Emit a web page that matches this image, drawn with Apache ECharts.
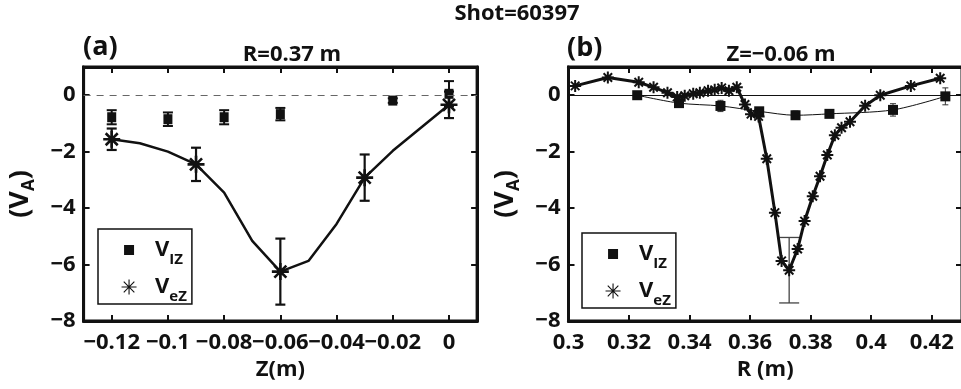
<!DOCTYPE html>
<html>
<head>
<meta charset="utf-8">
<script src="https://cdn.jsdelivr.net/npm/echarts@6/dist/echarts.min.js"></script>
<style>
html,body{margin:0;padding:0;background:#fff;}
#c{width:961px;height:389px;}
</style>
</head>
<body>
<div id="c"></div>
<script>
// ---------- data ----------
// Panel (a): R = 0.37 m, vs Z (m)
const zA_line = [-0.12, -0.11, -0.10, -0.09, -0.08, -0.07, -0.06, -0.05, -0.04, -0.03, -0.02, -0.01, 0];
const vA_line = [-1.56, -1.70, -2.00, -2.45, -3.45, -5.16, -6.25, -5.87, -4.56, -2.92, -1.97, -1.15, -0.34];

const zA_iz = [-0.12, -0.10, -0.08, -0.06, -0.02, 0];
const vA_iz = [-0.78, -0.85, -0.78, -0.67, -0.19, 0.05];
const eA_iz = [0.25, 0.24, 0.25, 0.22, 0.08, 0.45];

const zA_ez = [-0.12, -0.09, -0.06, -0.03, 0];
const vA_ez = [-1.56, -2.45, -6.25, -2.92, -0.34];
const eA_ez = [0.38, 0.59, 1.17, 0.82, 0.47];

// Panel (b): Z = -0.06 m, vs R (m)
const rB_iz = [0.3227, 0.3365, 0.3502, 0.3630, 0.3750, 0.3862, 0.4072, 0.4245];
const vB_iz = [0.00, -0.28, -0.38, -0.57, -0.71, -0.66, -0.52, -0.04];
const eB_iz = [0.08, 0.12, 0.20, 0.10, 0.15, 0.12, 0.22, 0.30];

const rB_ez = [0.3022, 0.3130, 0.3232, 0.3281, 0.3327, 0.3359, 0.3384, 0.3412, 0.3434, 0.3461, 0.3483,
               0.3506, 0.3530, 0.3556, 0.3583, 0.3603, 0.3628, 0.3655, 0.3682, 0.3704, 0.3729, 0.3757,
               0.3780, 0.3807, 0.3831, 0.3855, 0.3880, 0.3902, 0.3930, 0.3980, 0.4030, 0.4131, 0.4228];
const vB_ez = [0.33, 0.63, 0.46, 0.28, 0.09, -0.06, -0.02, 0.05, 0.09, 0.16, 0.19,
               0.26, 0.16, 0.28, -0.33, -0.67, -0.75, -2.25, -4.16, -5.87, -6.20, -5.45,
               -4.46, -3.58, -2.87, -2.12, -1.42, -1.15, -0.94, -0.37, 0.00, 0.33, 0.60];
const rB_ezErr = [0.3729];
const vB_ezErr = [-6.20];
const eB_ezErr = [1.16];

// tick labels
const xTicksA = [-0.12, -0.1, -0.08, -0.06, -0.04, -0.02, 0];
const xTicksB = [0.3, 0.32, 0.34, 0.36, 0.38, 0.4, 0.42];
const yTicks = [-8, -6, -4, -2, 0];

// ---------- helpers ----------
const FONT = "'Open Sans', 'DejaVu Sans', sans-serif";
const INK = '#111111';
const zip2 = (a, b) => a.map((v, i) => [v, b[i]]);
const zip3 = (a, b, c) => a.map((v, i) => [v, b[i], c[i]]);
const fmt = v => { const s = String(+(+v).toFixed(3)); return s.replace('-', '\u2212'); };
const STAR = 'path://M0,-10L0,10M-10,0L10,0M-7.07,-7.07L7.07,7.07M-7.07,7.07L7.07,-7.07';
const SQ_ICON = 'path://M-2.5,-2.5M12.5,12.5M0,0L10,0L10,10L0,10Z';

function errRender(capW, color, width) {
  return function (params, api) {
    const x = api.value(0), y = api.value(1), e = api.value(2);
    const hi = api.coord([x, y + e]);
    const lo = api.coord([x, y - e]);
    const style = { stroke: color, lineWidth: width, fill: null };
    return {
      type: 'group',
      children: [
        { type: 'line', shape: { x1: hi[0], y1: hi[1], x2: lo[0], y2: lo[1] }, style: style },
        { type: 'line', shape: { x1: hi[0] - capW / 2, y1: hi[1], x2: hi[0] + capW / 2, y2: hi[1] }, style: style },
        { type: 'line', shape: { x1: lo[0] - capW / 2, y1: lo[1], x2: lo[0] + capW / 2, y2: lo[1] }, style: style }
      ]
    };
  };
}

const axisLabelStyle = { fontFamily: FONT, fontWeight: 'bold', fontSize: 22, color: INK };
const axLine = () => ({ show: true, onZero: false, lineStyle: { color: INK, width: 3 } });
const axTick = (vals) => ({ show: true, inside: true, length: 6, lineStyle: { color: INK, width: 2 }, customValues: vals });
// frame axes (top / right): ticks only, labels are blank
const frameLabel = (vals) => ({ show: true, customValues: vals, formatter: () => ' ', fontSize: 2, margin: 1 });

function xAxes(grid, min, max, ticks, name) {
  return [
    { type: 'value', gridIndex: grid, position: 'bottom', min: min, max: max,
      axisLine: axLine(), axisTick: axTick(ticks), splitLine: { show: false },
      axisLabel: Object.assign({ margin: 11, customValues: ticks, formatter: fmt }, axisLabelStyle),
      name: name, nameLocation: 'middle', nameGap: 34,
      nameTextStyle: { fontFamily: FONT, fontWeight: 'bold', fontSize: 22, color: INK } },
    { type: 'value', gridIndex: grid, position: 'top', min: min, max: max, show: true,
      axisLine: axLine(), axisTick: axTick(ticks), splitLine: { show: false },
      axisLabel: frameLabel(ticks) }
  ];
}
const yNameRich = {
  p: { fontFamily: FONT, fontWeight: 'bold', fontSize: 27, color: INK, lineHeight: 34 },
  s: { fontFamily: FONT, fontWeight: 'bold', fontSize: 17, color: INK, lineHeight: 17, verticalAlign: 'bottom' }
};
function yAxes(grid) {
  return [
    { type: 'value', gridIndex: grid, position: 'left', min: -8, max: 1,
      axisLine: axLine(), axisTick: axTick(yTicks), splitLine: { show: false },
      axisLabel: Object.assign({ margin: 8, customValues: yTicks, formatter: fmt }, axisLabelStyle),
      name: '{p|(V}{s|A}{p|)}', nameLocation: 'middle', nameGap: 46, nameRotate: 90,
      nameTextStyle: { rich: yNameRich } },
    { type: 'value', gridIndex: grid, position: 'right', min: -8, max: 1, show: true,
      axisLine: axLine(), axisTick: axTick(yTicks), splitLine: { show: false },
      axisLabel: frameLabel(yTicks) }
  ];
}

const legendRich = {
  v: { fontFamily: FONT, fontWeight: 'bold', fontSize: 22, color: INK, lineHeight: 34 },
  s: { fontFamily: FONT, fontWeight: 'bold', fontSize: 15, color: INK, lineHeight: 15, verticalAlign: 'bottom' }
};
function makeLegend(left, top) {
  return {
    orient: 'vertical', left: left, top: top,
    padding: [10, 5, 0, 23], itemGap: 9, itemWidth: 42, itemHeight: 15,
    borderColor: INK, borderWidth: 1.5, backgroundColor: '#fff',
    selectedMode: false, symbolKeepAspect: true,
    data: [
      { name: 'V_IZ', icon: SQ_ICON, itemStyle: { color: INK, borderWidth: 0, opacity: 1 } },
      { name: 'V_eZ', icon: STAR, itemStyle: { color: 'rgba(0,0,0,0)', borderColor: INK, borderWidth: 1.1, opacity: 1 } }
    ],
    formatter: n => n === 'V_IZ' ? '{v|V}{s|IZ}' : '{v|V}{s|eZ}',
    textStyle: { rich: legendRich }
  };
}

// axis index pairs: panel (a) uses x0/y0 (bottom/left) and x1/y1 (top/right);
// panel (b) uses x2/y2 and x3/y3 – the pairs share identical ranges.
const gridBox = { show: true, borderColor: INK, borderWidth: 3, backgroundColor: 'rgba(0,0,0,0)', outerBoundsMode: 'none' };
const option = {
  animation: false,
  backgroundColor: '#fff',
  grid: [
    Object.assign({ left: 83.6, top: 67, width: 393.5, height: 254 }, gridBox),
    Object.assign({ left: 568.5, top: 67, width: 393.5, height: 254 }, gridBox)
  ],
  xAxis: [].concat(xAxes(0, -0.13, 0.01, xTicksA, 'Z(m)'), xAxes(1, 0.3, 0.43, xTicksB, 'R (m)')),
  yAxis: [].concat(yAxes(0), yAxes(1)),
  legend: [makeLegend(98, 229), makeLegend(582, 233)],
  graphic: [
    { type: 'text', x: 517, y: 14, style: { text: 'Shot=60397', font: "bold 22px " + FONT, fill: INK, align: 'center', verticalAlign: 'middle' } },
    { type: 'text', x: 83, y: 47, style: { text: '(a)', font: "bold 27px " + FONT, fill: INK, align: 'left', verticalAlign: 'middle' } },
    { type: 'text', x: 567, y: 48, style: { text: '(b)', font: "bold 27px " + FONT, fill: INK, align: 'left', verticalAlign: 'middle' } },
    { type: 'text', x: 292, y: 55, style: { text: 'R=0.37 m', font: "bold 22px " + FONT, fill: INK, align: 'center', verticalAlign: 'middle' } },
    { type: 'text', x: 781, y: 55, style: { text: 'Z=\u22120.06 m', font: "bold 22px " + FONT, fill: INK, align: 'center', verticalAlign: 'middle' } }
  ],
  series: [
    // ---- panel (a) ----
    { name: 'lineA', type: 'line', xAxisIndex: 1, yAxisIndex: 1, data: zip2(zA_line, vA_line),
      showSymbol: false, symbol: 'none', lineStyle: { color: INK, width: 2.5 }, itemStyle: { color: INK }, z: 2,
      markLine: { silent: true, symbol: 'none', label: { show: false },
        lineStyle: { color: '#666', width: 1.2, type: [7, 6] }, data: [{ yAxis: 0 }] } },
    { name: 'errA_iz', type: 'custom', xAxisIndex: 0, yAxisIndex: 0, data: zip3(zA_iz, vA_iz, eA_iz),
      renderItem: errRender(10, INK, 2), z: 3 },
    { name: 'V_IZ', type: 'scatter', xAxisIndex: 0, yAxisIndex: 0, data: zip2(zA_iz, vA_iz),
      symbol: 'rect', symbolSize: [9, 10], itemStyle: { color: INK, opacity: 1 }, z: 4 },
    { name: 'errA_ez', type: 'custom', xAxisIndex: 1, yAxisIndex: 1, data: zip3(zA_ez, vA_ez, eA_ez),
      renderItem: errRender(10, INK, 2.2), z: 3 },
    { name: 'V_eZ', type: 'scatter', xAxisIndex: 1, yAxisIndex: 1, data: zip2(zA_ez, vA_ez),
      symbol: STAR, symbolSize: 17, itemStyle: { color: 'rgba(0,0,0,0)', borderColor: INK, borderWidth: 2.6, opacity: 1 }, z: 5 },

    // ---- panel (b) ----
    { name: 'V_IZ', type: 'line', xAxisIndex: 2, yAxisIndex: 2, data: zip2(rB_iz, vB_iz),
      smooth: 0.3, symbol: 'rect', symbolSize: 10, showAllSymbol: true,
      lineStyle: { color: INK, width: 1 }, itemStyle: { color: INK, opacity: 1 }, z: 3,
      markLine: { silent: true, symbol: 'none', label: { show: false },
        lineStyle: { color: INK, width: 1.2, type: 'solid' }, data: [{ yAxis: 0 }] } },
    { name: 'errB_iz', type: 'custom', xAxisIndex: 2, yAxisIndex: 2, data: zip3(rB_iz, vB_iz, eB_iz),
      renderItem: errRender(6, '#333', 1), z: 3 },
    { name: 'V_eZ', type: 'line', xAxisIndex: 3, yAxisIndex: 3, data: zip2(rB_ez, vB_ez),
      symbol: STAR, symbolSize: 12, showAllSymbol: true,
      lineStyle: { color: INK, width: 3 },
      itemStyle: { color: 'rgba(0,0,0,0)', borderColor: INK, borderWidth: 2, opacity: 1 }, z: 5 },
    { name: 'errB_ez', type: 'custom', xAxisIndex: 3, yAxisIndex: 3, data: zip3(rB_ezErr, vB_ezErr, eB_ezErr),
      renderItem: errRender(20, '#444', 1.3), z: 4 }
  ]
};

const chart = echarts.init(document.getElementById('c'), null, { renderer: 'canvas' });
chart.setOption(option);
</script>
</body>
</html>
